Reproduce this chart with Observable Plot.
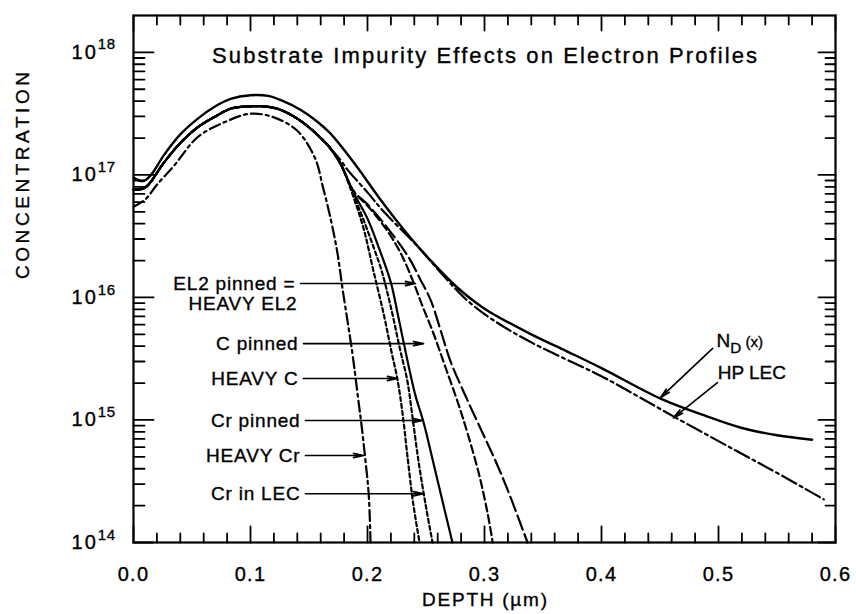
<!DOCTYPE html>
<html><head><meta charset="utf-8">
<script src="https://cdn.jsdelivr.net/npm/d3@7"></script>
<script src="https://cdn.jsdelivr.net/npm/@observablehq/plot@0.6"></script>
<style>body{margin:0;background:#fff}</style>
</head><body><div id="chart"></div>
<script>
// ---- data (depth in µm, concentration in cm^-3) ----
const ndDepth = [0, 0.008, 0.015, 0.026, 0.04, 0.055, 0.07, 0.083, 0.1, 0.115, 0.126, 0.143, 0.155, 0.168, 0.19, 0.211, 0.234, 0.254, 0.277, 0.30, 0.34, 0.37, 0.40, 0.45, 0.49, 0.52, 0.55, 0.58];
const ndConc = [9.5e16, 8.9e16, 1.0e17, 1.45e17, 2.14e17, 2.88e17, 3.63e17, 4.17e17, 4.47e17, 4.42e17, 4.07e17, 3.39e17, 2.82e17, 2.19e17, 1.20e17, 6.3e16, 3.3e16, 2.0e16, 1.2e16, 8.1e15, 5.0e15, 3.65e15, 2.65e15, 1.5e15, 1.07e15, 8.6e14, 7.5e14, 6.9e14];

// common near-surface part shared by the compensated profiles
const bundleDepth = [0, 0.01, 0.026, 0.04, 0.055, 0.07, 0.083, 0.1, 0.115, 0.126, 0.14, 0.151, 0.16, 0.168, 0.177];
const bundleConc = [7.6e16, 7.9e16, 1.26e17, 1.82e17, 2.45e17, 3.0e17, 3.47e17, 3.63e17, 3.6e17, 3.39e17, 2.88e17, 2.4e17, 2.0e17, 1.66e17, 1.23e17];

const hpLecDepth = [0.177, 0.183, 0.2, 0.214, 0.243, 0.265, 0.2855, 0.31, 0.342, 0.399, 0.43, 0.4615, 0.513, 0.55, 0.59];
const hpLecConc = [1.32e17, 1.1e17, 7.2e16, 5.0e16, 2.6e16, 1.5e16, 9.4e15, 6.3e15, 4.2e15, 2.3e15, 1.58e15, 1.07e15, 5.75e14, 3.7e14, 2.25e14];

const heavyCrDepth = [0, 0.01, 0.02, 0.035, 0.055, 0.08, 0.1, 0.12, 0.14, 0.155, 0.162, 0.168, 0.174, 0.179, 0.187, 0.192, 0.195, 0.198, 0.201, 0.2026];
const heavyCrConc = [5.5e16, 6.3e16, 8.3e16, 1.2e17, 2.04e17, 2.75e17, 3.16e17, 2.95e17, 2.29e17, 1.38e17, 7.9e16, 4.6e16, 2.4e16, 1.12e16, 3.55e15, 1.5e15, 8.9e14, 4.9e14, 2.5e14, 1.0e14];

const heavyCDepth = [0.188, 0.197, 0.205, 0.214, 0.22, 0.2256, 0.23, 0.234, 0.239, 0.2445];
const heavyCConc = [6.6e16, 3.55e16, 1.66e16, 7.2e15, 3.8e15, 2.14e15, 1.12e15, 5.2e14, 2.1e14, 1.0e14];

const crLecDepth = [0.188, 0.197, 0.205, 0.212, 0.22, 0.228, 0.234, 0.2385, 0.2436, 0.25, 0.2556];
const crLecConc = [6.9e16, 4.2e16, 2.6e16, 1.66e16, 8.3e15, 3.7e15, 2.1e15, 1.05e15, 4.6e14, 1.95e14, 1.0e14];

const crPinnedDepth = [0.188, 0.2, 0.21, 0.22, 0.226, 0.235, 0.241, 0.248, 0.256, 0.265, 0.2726];
const crPinnedConc = [7.2e16, 4.4e16, 2.5e16, 1.32e16, 7.2e15, 2.8e15, 1.58e15, 9.5e14, 4.6e14, 2.0e14, 1.0e14];

const cPinnedDepth = [0.188, 0.2, 0.21, 0.22, 0.23, 0.239, 0.247, 0.256, 0.266, 0.278, 0.2855, 0.2955, 0.3026, 0.307];
const cPinnedConc = [7.4e16, 5.6e16, 4.3e16, 3.16e16, 2.14e16, 1.35e16, 8.5e15, 5.2e15, 2.8e15, 1.32e15, 7.8e14, 3.55e14, 1.74e14, 1.0e14];

const el2Depth = [0.188, 0.2, 0.217, 0.235, 0.245, 0.254, 0.263, 0.271, 0.285, 0.299, 0.31, 0.3197, 0.329, 0.3368];
const el2Conc = [7.4e16, 5.75e16, 3.7e16, 2.14e16, 1.41e16, 9.5e15, 5.2e15, 3.0e15, 1.48e15, 7.6e14, 4.5e14, 2.7e14, 1.58e14, 1.0e14];

const xTickLabels = [0, 0.1, 0.2, 0.3, 0.4, 0.5, 0.6];
const yTickLabels = [1e14, 1e15, 1e16, 1e17, 1e18];

// curve labels (label anchor = arrow start, tip = arrow end depth)
const curveLabels = [
  {text: "EL2 pinned =", x: 0.1427, y: 1.3e16, tip: 0.241},
  {text: "C pinned", x: 0.1453, y: 4.2e15, tip: 0.2479},
  {text: "HEAVY C", x: 0.1453, y: 2.18e15, tip: 0.2256},
  {text: "Cr pinned", x: 0.147, y: 9.9e14, tip: 0.247},
  {text: "HEAVY Cr", x: 0.147, y: 5.13e14, tip: 0.1966},
  {text: "Cr in LEC", x: 0.147, y: 2.5e14, tip: 0.2479}
];
const sideLabels = [
  {text: "N_D (x)", x: 0.4983, y: 4.46e15, x1: 0.495, y1: 3.84e15, x2: 0.4504, y2: 1.52e15},
  {text: "HP LEC", x: 0.4993, y: 2.44e15, x1: 0.4991, y1: 2.02e15, x2: 0.4615, y2: 1.04e15}
];

// ---- build tables ----
const rows = (d, c) => d.map((v, i) => ({depth: v, conc: c[i]}));
const series = [
  {key: "nd", data: rows(ndDepth, ndConc), dash: null, w: 2.4},
  {key: "hplec", data: rows(bundleDepth.slice(0, 14), bundleConc.slice(0, 14)).concat(rows(hpLecDepth, hpLecConc)), dash: "16,4,3,4", w: 2.2},
  {key: "heavyCr", data: rows(heavyCrDepth, heavyCrConc), dash: "11,4,3,4", w: 2.2},
  {key: "heavyC", data: rows(bundleDepth, bundleConc).concat(rows(heavyCDepth, heavyCConc)), dash: "4,3", w: 2.2},
  {key: "crLec", data: rows(bundleDepth, bundleConc).concat(rows(crLecDepth, crLecConc)), dash: "4,3", w: 2.2},
  {key: "crPinned", data: rows(bundleDepth, bundleConc).concat(rows(crPinnedDepth, crPinnedConc)), dash: null, w: 2.2},
  {key: "cPinned", data: rows(bundleDepth, bundleConc).concat(rows(cPinnedDepth, cPinnedConc)), dash: "8,4", w: 2.2},
  {key: "el2", data: rows(bundleDepth, bundleConc).concat(rows(el2Depth, el2Conc)), dash: "15,5", w: 2.2}
];

const xMinor = d3.range(0, 0.6001, 0.02).filter(v => Math.abs(v * 10 - Math.round(v * 10)) > 1e-6);
const yMinor = [];
for (let k = 14; k < 18; ++k) for (let m = 2; m <= 9; ++m) yMinor.push(m * 10 ** k);

const W = 856, H = 614, mL = 133, mR = 21, mT = 15, mB = 72;
const xDomain = [0, 0.6], yDomain = [1e14, 2e18];

// scales identical to the plot's, used to turn tick lengths (px) into inward tick ends
const xs = Plot.scale({x: {domain: xDomain, range: [mL, W - mR]}});
const ys = Plot.scale({y: {type: "log", domain: yDomain, range: [H - mB, mT]}});
const yIn = (v, px) => ys.invert(ys.apply(v) + px);
const xIn = (v, px) => xs.invert(xs.apply(v) + px);

// inward ticks on all four sides as two-point segments
const tickRows = [];
let tid = 0;
const addX = (vals, atY, px) => vals.forEach(v => { tid++; tickRows.push({k: tid, x: v, y: atY}, {k: tid, x: v, y: yIn(atY, px)}); });
const addY = (vals, atX, px) => vals.forEach(v => { tid++; tickRows.push({k: tid, x: atX, y: v}, {k: tid, x: xIn(atX, px), y: v}); });
addX(xMinor, yDomain[0], -9); addX(xTickLabels, yDomain[0], -16);
addX(xMinor, yDomain[1], 9);  addX(xTickLabels, yDomain[1], 15);
addY(yMinor, xDomain[0], 11); addY(yTickLabels, xDomain[0], 20);
addY(yMinor, xDomain[1], -10); addY(yTickLabels, xDomain[1], -17);

const chart = Plot.plot({
  width: W, height: H,
  marginLeft: mL, marginRight: mR, marginTop: mT, marginBottom: mB,
  style: {fontFamily: "'Liberation Sans', Arial, sans-serif", fontSize: "19px", color: "black", background: "white"},
  x: {domain: xDomain},
  y: {type: "log", domain: yDomain},
  marks: [
    Plot.axisY({ticks: yTickLabels, tickSize: 0, tickPadding: 18, label: null, fontSize: 20,
      tickFormat: d => String(Math.round(Math.log10(d)))}),
    Plot.axisX({ticks: xTickLabels, tickSize: 0, tickPadding: 24, label: null, fontSize: 20,
      tickFormat: d3.format(".1f")}),
    Plot.line(tickRows, {x: "x", y: "y", z: "k", stroke: "black", strokeWidth: 1.8}),
    ...series.map(s => Plot.line(s.data, {x: "depth", y: "conc", stroke: "black",
      strokeWidth: s.w, strokeDasharray: s.dash, curve: "catmull-rom"})),
    // curve labels and arrows
    Plot.arrow(curveLabels, {x1: "x", y1: "y", x2: "tip", y2: "y", stroke: "black",
      strokeWidth: 1.7, headLength: 9, headAngle: 24}),
    Plot.text(curveLabels, {x: "x", y: "y", text: "text", textAnchor: "end", dx: -5, fontSize: 19}),
    Plot.text(["HEAVY EL2"], {x: curveLabels[0].x, y: 8.8e15, text: d => d, textAnchor: "end", dx: -3, fontSize: 19}),
    Plot.arrow(sideLabels, {x1: "x1", y1: "y1", x2: "x2", y2: "y2", stroke: "black",
      strokeWidth: 1.7, headLength: 9, headAngle: 24}),
    Plot.text(sideLabels, {x: "x", y: "y", text: "text", textAnchor: "start", fontSize: 19}),
    // title and axis titles
    Plot.text(["Substrate Impurity Effects on Electron Profiles"], {frameAnchor: "top", dy: 32, text: d => d, fontSize: 22}),
    Plot.text(["CONCENTRATION"], {frameAnchor: "left", dx: -111, rotate: -90, text: d => d, fontSize: 19}),
    Plot.text(["DEPTH (\u00b5m)"], {frameAnchor: "bottom", dy: 63, text: d => d, fontSize: 19}),
    Plot.frame({stroke: "black", strokeWidth: 2.2})
  ]
});

document.getElementById("chart").appendChild(chart);
const svg = d3.select(chart);

// ---- typographic touches ----
svg.selectAll('g[aria-label="y-axis tick label"] text').each(function () {
  const e = this.textContent;
  if (!e) return;
  const t = d3.select(this);
  t.text("10").attr("letter-spacing", "2");
  t.append("tspan").attr("dy", "-0.62em").attr("font-size", "0.75em").attr("letter-spacing", "0.5").text(e);
});
svg.selectAll('g[aria-label="x-axis tick label"] text').attr("letter-spacing", "1.2");
svg.selectAll("text").each(function () {
  const t = d3.select(this);
  const s = this.textContent;
  if (s === "N_D (x)") {
    t.text("N");
    t.append("tspan").attr("dy", "0.4em").attr("font-size", "0.8em").text("D");
    t.append("tspan").attr("dy", "-0.4em").attr("font-size", "0.8em").text(" (x)");
  } else if (s === "Substrate Impurity Effects on Electron Profiles") {
    t.attr("textLength", 545).attr("lengthAdjust", "spacing");
  } else if (s === "CONCENTRATION") {
    t.attr("textLength", 207).attr("lengthAdjust", "spacing");
  } else if (s === "DEPTH (\u00b5m)") {
    t.attr("textLength", 125).attr("lengthAdjust", "spacing");
  } else if (curveLabels.some(d => d.text === s) || s === "HEAVY EL2") {
    t.attr("letter-spacing", "0.8");
  }
});
// slightly heavier strokes for all text, like the printed original
svg.selectAll("text").attr("stroke", "black").attr("stroke-width", 0.35);
</script></body></html>
